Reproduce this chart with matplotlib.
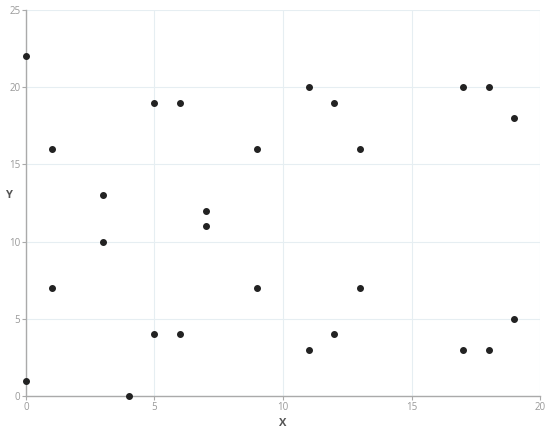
import matplotlib.pyplot as plt

# data
x = [0, 0, 1, 1, 3, 3, 4, 5, 5, 6, 6, 7, 7, 9, 9, 11, 11, 12, 12, 13, 13, 17, 17, 18, 18, 19, 19]
y = [22, 1, 16, 7, 13, 10, 0, 19, 4, 19, 4, 12, 11, 16, 7, 20, 3, 19, 4, 16, 7, 20, 3, 20, 3, 18, 5]
xticks = [0, 5, 10, 15, 20]
yticks = [0, 5, 10, 15, 20, 25]

plt.rcParams['font.family'] = ['Open Sans', 'DejaVu Sans']

fig = plt.figure(figsize=(5.5, 4.29), dpi=100)
ax = fig.add_axes([0.047, 0.077, 0.935, 0.9])

ax.scatter(x, y, s=16, color='#222222', zorder=3, clip_on=False)

ax.set_xlim(0, 20)
ax.set_ylim(0, 25)
ax.set_xticks(xticks)
ax.set_yticks(yticks)
ax.grid(True, color='#e6eef2', linewidth=0.8)
ax.set_axisbelow(True)

for side in ['top', 'right']:
    ax.spines[side].set_visible(False)
for side in ['left', 'bottom']:
    ax.spines[side].set_color('#aaaaaa')
    ax.spines[side].set_linewidth(1.0)

ax.tick_params(colors='#aaaaaa', labelcolor='#999999', labelsize=7, length=3, width=0.8, pad=1)

ax.set_xlabel('X', fontsize=8, fontweight='bold', color='#555555')
ax.set_ylabel('Y', fontsize=8, fontweight='bold', color='#555555', rotation=0, va='center', ha='center')
ax.xaxis.set_label_coords(0.5, -0.057)
ax.yaxis.set_label_coords(-0.033, 0.52)

fig.savefig('out.png', dpi=100)
